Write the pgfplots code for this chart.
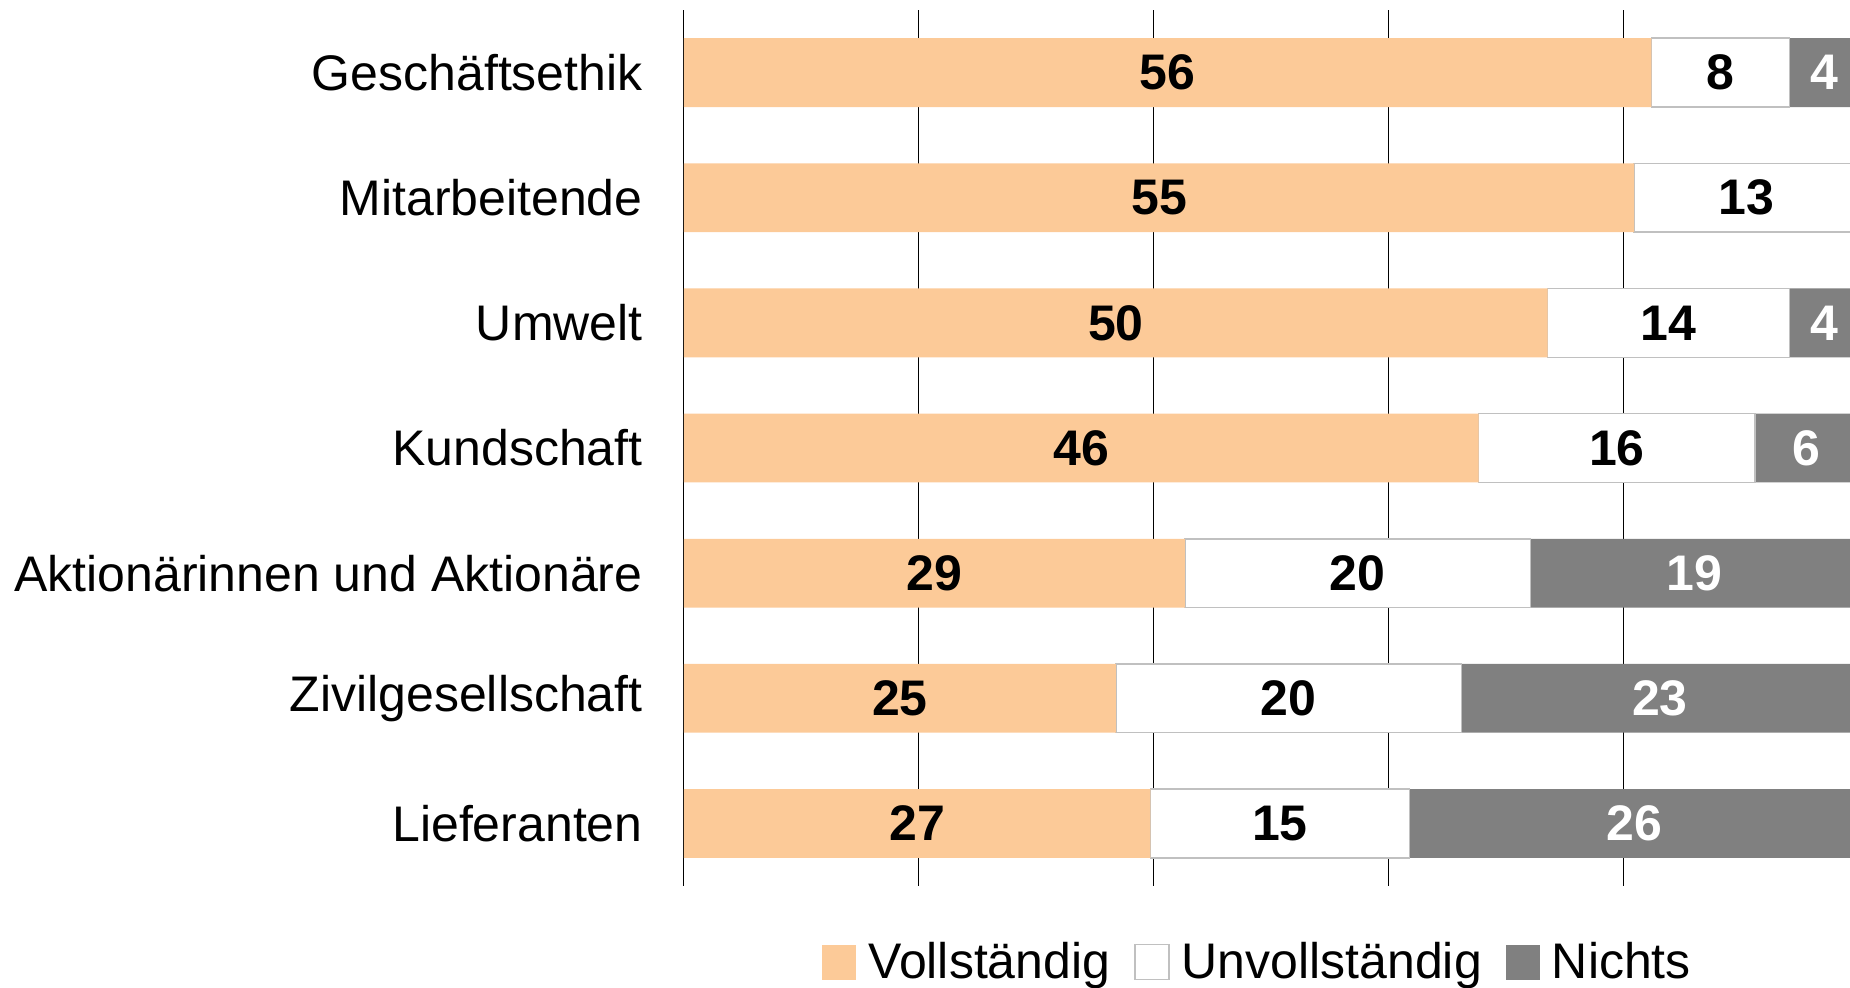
\documentclass[border=0pt]{standalone}
\usepackage{fontspec}
\setmainfont{Liberation Sans}
\usepackage{pgfplots}
\pgfplotsset{compat=1.18}
\definecolor{voll}{RGB}{252,202,152}
\definecolor{nichts}{RGB}{128,128,128}
\definecolor{rahmen}{RGB}{192,192,192}
\begin{document}
\begin{tikzpicture}
\begin{axis}[
  at={(0,0)}, anchor=south west,
  scale only axis, width=583pt, height=438pt,
  xbar stacked, bar width=0.55,
  xmin=0, xmax=67.5, ymin=-0.5, ymax=6.5, y dir=reverse,
  clip=false,
  xtick={0,13.6,27.2,40.8,54.4}, xticklabels={},
  xmajorgrids, grid style={black, line width=0.5pt},
  ytick={0,...,6},
  yticklabels={Geschäftsethik, Mitarbeitende, Umwelt, Kundschaft, Aktionärinnen und Aktionäre, Zivilgesellschaft, Lieferanten},
  yticklabel style={font=\fontsize{25}{30}\selectfont, anchor=east, inner sep=0pt, xshift=-20.5pt},
  axis line style={draw=none}, major tick length=0pt,
  visualization depends on=rawx\as\rawx,
  nodes near coords={\pgfmathtruncatemacro\v{\rawx}\ifnum\v>0 \v\fi},
  every node near coord/.append style={anchor=center, inner sep=0pt,
    font=\bfseries\fontsize{25}{30}\selectfont},
  legend columns=3,
  legend style={at={(0.1184,-0.087)}, anchor=west, draw=none, fill=none, inner sep=0pt,
    font=\fontsize{25}{30}\selectfont,
    /tikz/every odd column/.append style={column sep=4pt},
    /tikz/every even column/.append style={column sep=10pt}},
  legend image code/.code={\path[#1, line width=0.75pt] (-7.5pt,-8.75pt) rectangle (9.5pt,8.75pt);},
]
\addplot[fill=voll, draw=none, nodes near coords style={text=black}] coordinates {(56,0) (55,1) (50,2) (46,3) (29,4) (25,5) (27,6)};
\addplot[fill=white, draw=rahmen, line width=0.75pt, nodes near coords style={text=black}] coordinates {(8,0) (13,1) (14,2) (16,3) (20,4) (20,5) (15,6)};
\addplot[fill=nichts, draw=none, nodes near coords style={text=white}] coordinates {(4,0) (0,1) (4,2) (6,3) (19,4) (23,5) (26,6)};
\legend{Vollständig, Unvollständig, Nichts}
\end{axis}
\pgfresetboundingbox
\useasboundingbox (-342pt,-50.5pt) rectangle (583pt,443pt);
\end{tikzpicture}
\end{document}
